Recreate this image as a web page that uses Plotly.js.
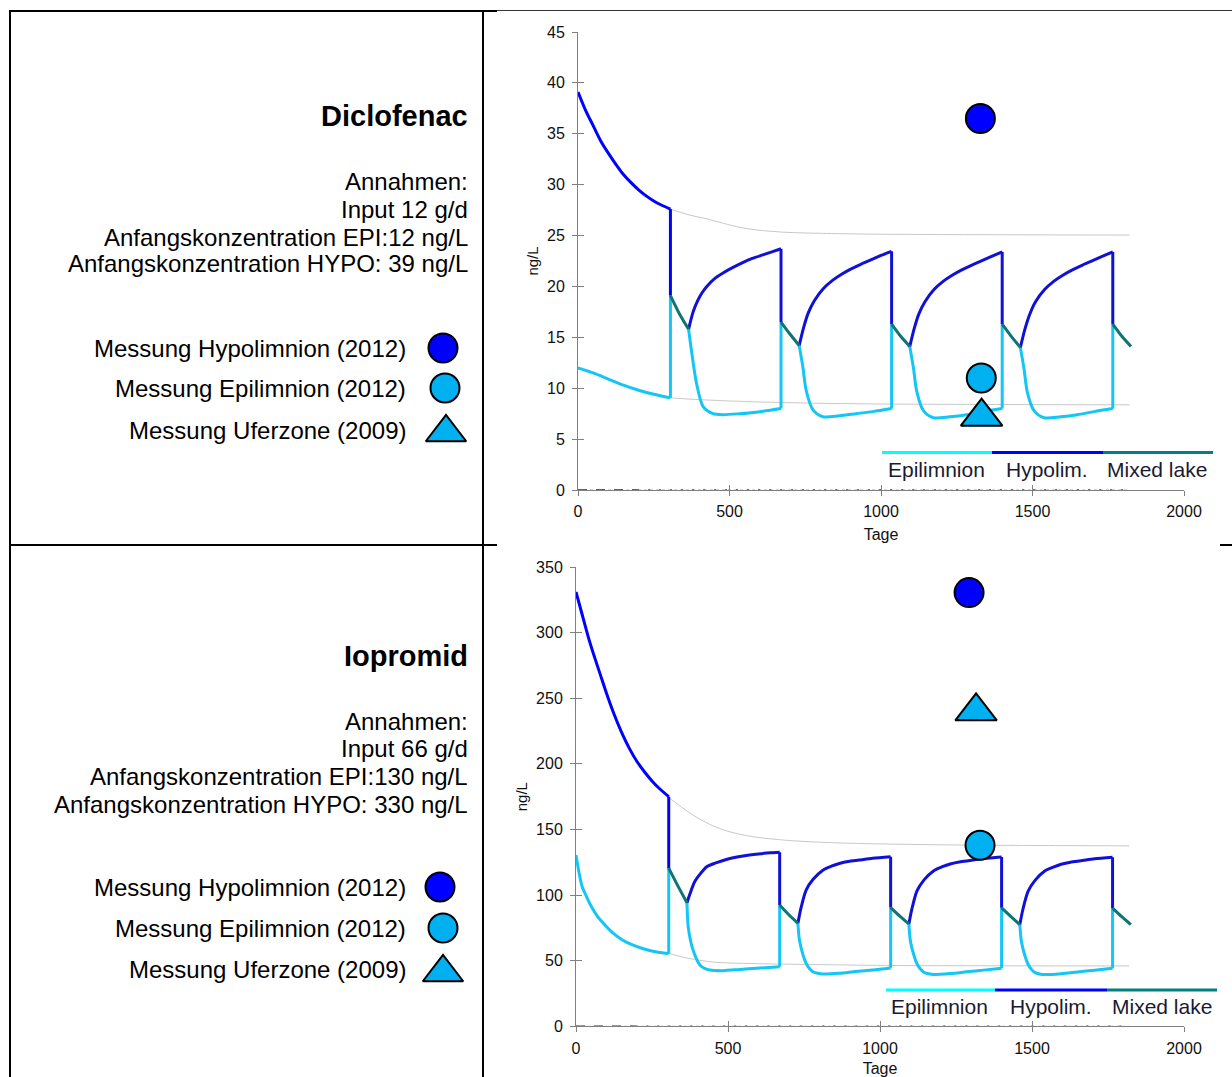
<!DOCTYPE html>
<html>
<head>
<meta charset="utf-8">
<script src="https://cdn.plot.ly/plotly-3.0.1.min.js"></script>
<style>
html,body{margin:0;padding:0;background:#fff;}
#chart{width:1232px;height:1077px;}
</style>
</head>
<body>
<div id="chart"></div>
<script>
// ================= DATA =================
// Diclofenac (top chart), ng/L over Tage
const dicHypoInitT = [0,25,50,75,100,125,150,175,200,225,250,275,305,305];
const dicHypoInitV = [39.1,37.3,35.8,34.3,33.1,32.0,31.0,30.2,29.5,28.9,28.4,28.0,27.6,19.1];

const dicEpiT = [0,50,100,150,200,250,305,305,null,
  365,374,391,413,446,479,534,589,670,670,null,
  730,742,753,775,808,863,918,973,1035,1035,null,
  1095,1107,1118,1140,1173,1228,1283,1338,1400,1400,null,
  1460,1472,1483,1505,1538,1593,1648,1703,1765,1765];
const dicEpiV = [12.0,11.5,10.9,10.3,9.8,9.4,9.05,19.1,null,
  15.8,13.8,10.5,8.2,7.5,7.4,7.5,7.65,8.0,16.5,null,
  14.2,12.1,9.8,7.9,7.2,7.3,7.5,7.7,8.0,16.3,null,
  14.1,12.0,9.7,7.8,7.1,7.2,7.4,7.7,8.0,16.3,null,
  14.0,11.9,9.6,7.8,7.1,7.2,7.4,7.7,8.0,16.3];

const dicHypoT = [365,380,395,410,425,450,480,510,540,575,610,640,670,670,null,
  730,745,760,780,810,840,870,900,935,970,1000,1035,1035,null,
  1095,1110,1125,1145,1175,1205,1235,1265,1300,1335,1365,1400,1400,null,
  1460,1475,1490,1510,1540,1570,1600,1630,1665,1700,1730,1765,1765];
const dicHypoV = [15.8,17.5,18.6,19.4,20.0,20.75,21.35,21.85,22.3,22.75,23.1,23.4,23.7,16.5,null,
  14.2,16.0,17.4,18.6,19.8,20.6,21.2,21.7,22.2,22.65,23.05,23.45,16.3,null,
  14.1,15.9,17.3,18.5,19.7,20.5,21.1,21.6,22.1,22.55,22.95,23.4,16.3,null,
  14.0,15.8,17.2,18.5,19.7,20.5,21.1,21.6,22.1,22.55,22.95,23.4,16.3];

const dicMixT = [305,335,365,null,670,700,730,null,1035,1065,1095,null,1400,1430,1460,null,1765,1795,1825];
const dicMixV = [19.1,17.3,15.8,null,16.5,15.3,14.2,null,16.3,15.1,14.1,null,16.3,15.1,14.0,null,16.3,15.1,14.1];

const dicGrayUpT = [305,370,425,480,535,590,645,700,800,900,1000,1200,1400,1600,1820];
const dicGrayUpV = [27.6,27.0,26.65,26.2,25.8,25.55,25.4,25.3,25.22,25.17,25.13,25.1,25.08,25.06,25.05];
const dicGrayLoT = [305,400,500,600,700,800,1000,1200,1400,1600,1820];
const dicGrayLoV = [9.05,8.88,8.75,8.65,8.58,8.52,8.45,8.42,8.4,8.38,8.37];

const dicMeasT = [1328,1331,1332];
const dicMeasV = [36.5,11.0,7.2];

// Iopromid (bottom chart)
const iopHypoInitT = [0,20,40,60,80,100,125,150,175,200,225,250,275,305,305];
const iopHypoInitV = [331,314,297,282,268,254,238,224,212,202,194,187,181,175,120.5];

const iopEpiT = [0,10,20,35,50,70,90,120,150,190,230,270,305,305,null,
  365,369,377,385,396,407,423,440,483,540,593,670,670,null,
  730,735,746,757,768,779,795,812,866,920,976,1035,1035,null,
  1095,1100,1111,1122,1133,1144,1160,1177,1231,1285,1341,1400,1400,null,
  1460,1465,1476,1487,1498,1509,1525,1542,1596,1650,1706,1765,1765];
const iopEpiV = [130.5,117,106.5,98.7,91.5,84,78.5,71.3,66.2,61.6,58.5,56.5,55.5,120.5,null,
  94.2,75.9,65,58.1,51.5,46.7,44.2,42.9,42.4,43.3,44.2,45.4,92.4,null,
  78.5,65.7,55,48,44,41.6,40.4,39.8,40.4,41.7,42.9,44.5,90.5,null,
  78.0,65,54.5,47.5,43.6,41.2,40.0,39.5,40.2,41.5,42.8,44.3,90.3,null,
  77.5,64.8,54.3,47.3,43.4,41.1,39.9,39.4,40.1,41.4,42.7,44.2,90.0];

const iopHypoT = [365,375,390,410,430,460,500,550,600,640,670,670,null,
  730,740,757,780,812,840,866,900,940,976,1035,1035,null,
  1095,1105,1122,1145,1177,1205,1231,1265,1305,1341,1400,1400,null,
  1460,1470,1487,1510,1542,1570,1596,1630,1670,1706,1765,1765];
const iopHypoV = [94.2,101,110,116.5,121.6,124.5,127.5,129.8,131.3,132.2,132.6,92.4,null,
  78.5,90,103.8,112,119,122,124.1,125.8,127,128,129.2,90.5,null,
  78.0,89.5,103.3,111.6,118.6,121.6,123.7,125.4,126.7,127.8,129,90.3,null,
  77.5,89,102.8,111.2,118.3,121.3,123.5,125.2,126.5,127.6,128.8,90.0];

const iopMixT = [305,335,365,null,670,700,730,null,1035,1065,1095,null,1400,1430,1460,null,1765,1795,1825];
const iopMixV = [120.5,107,94.2,null,92.4,85,78.5,null,90.5,84,78.0,null,90.3,83.8,77.5,null,90.0,83.5,77.5];

const iopGrayUpT = [305,350,400,450,500,550,600,700,800,900,1000,1200,1400,1600,1820];
const iopGrayUpV = [174.4,166.5,158.8,152.8,148.6,145.8,143.9,141.6,140.3,139.5,139,138.3,137.9,137.7,137.5];
const iopGrayLoT = [305,350,400,450,500,600,700,800,900,1000,1200,1400,1600,1820];
const iopGrayLoV = [55.6,52.8,50.6,49.0,48.3,47.7,47.3,47.0,46.7,46.4,46.2,46.1,46.0,46.0];

const iopMeasT = [1293,1329,1316];
const iopMeasV = [330.5,138,240];

// zero-level series (drawn along the axis)
const zeroDashT = [0,195];
const zeroDotT = [195,1820];
const zeroAllT = [0,1820];
const zeroV = [0,0];

// texts
const legendLabels = ['Epilimnion','Hypolim.','Mixed lake'];
const dicTexts = ['Annahmen:','Input 12 g/d','Anfangskonzentration EPI:12 ng/L','Anfangskonzentration HYPO: 39 ng/L'];
const iopTexts = ['Annahmen:','Input 66 g/d','Anfangskonzentration EPI:130 ng/L','Anfangskonzentration HYPO: 330 ng/L'];
const measLabels = ['Messung Hypolimnion (2012)','Messung Epilimnion (2012)','Messung Uferzone (2009)'];

// ================= LAYOUT HELPERS =================
const W = 1232, H = 1077;
const px = x => x / W;
const py = y => 1 - y / H;
const FONT = 'Arial, "Liberation Sans", sans-serif';

const C_EPI = '#14C6F5', C_HYPO0 = '#0000FF', C_HYPO = '#1010D6', C_MIX = '#127373', C_GRAY = '#C8C8C8';
const C_HMEAS = '#0000FF', C_EMEAS = '#00B0F0';

// split a series into smooth curve pieces and vertical jumps (last two points with equal t)
function splitJumps(T, V) {
  const cT = [], cV = [], jT = [], jV = [];
  let seg = [];
  const flush = () => {
    if (!seg.length) return;
    let pts = seg, n = seg.length;
    if (n >= 2 && pts[n-1][0] === pts[n-2][0]) {
      jT.push(pts[n-2][0], pts[n-1][0], null); jV.push(pts[n-2][1], pts[n-1][1], null);
      pts = pts.slice(0, n-1);
    }
    pts.forEach(p => { cT.push(p[0]); cV.push(p[1]); });
    cT.push(null); cV.push(null);
    seg = [];
  };
  for (let i = 0; i < T.length; i++) {
    if (T[i] === null) flush(); else seg.push([T[i], V[i]]);
  }
  flush();
  return {cT, cV, jT, jV};
}

function ln(x, y, color, width, xa, ya, dash, smooth) {
  const l = {color:color, width:width, dash:dash||'solid'};
  if (smooth) { l.shape = 'spline'; l.smoothing = smooth; }
  return {type:'scatter', mode:'lines', x:x, y:y, xaxis:xa, yaxis:ya,
    line:l, connectgaps:false, hoverinfo:'skip', showlegend:false};
}
function series(T, V, color, xa, ya) {
  const s = splitJumps(T, V);
  return [ln(s.jT, s.jV, color, 3, xa, ya), ln(s.cT, s.cV, color, 3, xa, ya, null, 0.8)];
}
function chartTraces(d, xa, ya) {
  return [
    ln(zeroAllT, zeroV, '#A8A8A8', 1, xa, ya, 'dot'),
    ln(zeroDashT, zeroV, '#2020E8', 1.5, xa, ya, 'dash'),
    ln(zeroDotT, zeroV, '#3030F0', 1.5, xa, ya, '2px,9px'),
    ln(d.gut, d.guv, C_GRAY, 1, xa, ya, null, 0.8),
    ln(d.glt, d.glv, C_GRAY, 1, xa, ya, null, 0.8)
  ].concat(series(d.et, d.ev, C_EPI, xa, ya))
   .concat(series(d.h0t, d.h0v, C_HYPO0, xa, ya))
   .concat(series(d.ht, d.hv, C_HYPO, xa, ya))
   .concat([ln(d.mt, d.mv, C_MIX, 3, xa, ya, null, 0.6)]);
}

const traces = []
  .concat(chartTraces({gut:dicGrayUpT,guv:dicGrayUpV,glt:dicGrayLoT,glv:dicGrayLoV,et:dicEpiT,ev:dicEpiV,
     h0t:dicHypoInitT,h0v:dicHypoInitV,ht:dicHypoT,hv:dicHypoV,mt:dicMixT,mv:dicMixV},'x','y'))
  .concat(chartTraces({gut:iopGrayUpT,guv:iopGrayUpV,glt:iopGrayLoT,glv:iopGrayLoV,et:iopEpiT,ev:iopEpiV,
     h0t:iopHypoInitT,h0v:iopHypoInitV,ht:iopHypoT,hv:iopHypoV,mt:iopMixT,mv:iopMixV},'x2','y2'));

const measMarker = {symbol:['circle','circle','triangle-up'], size:[29,29,36], opacity:1,
    color:[C_HMEAS,C_EMEAS,C_EMEAS], line:{color:'#000', width:2}};
// measurements
traces.push({type:'scatter', mode:'markers', x:dicMeasT, y:dicMeasV, xaxis:'x', yaxis:'y',
  hoverinfo:'skip', showlegend:false, cliponaxis:false, marker:measMarker});
traces.push({type:'scatter', mode:'markers', x:iopMeasT, y:iopMeasV, xaxis:'x2', yaxis:'y2',
  hoverinfo:'skip', showlegend:false, cliponaxis:false, marker:measMarker});

// key symbols in the left cells (pixel-positioned legend keys)
const keyX = [443,445,446, 440,443,443];
const keyY = [348,388,432.5, 887,928,972.5];
traces.push({type:'scatter', mode:'markers', x:keyX, y:keyY, xaxis:'x3', yaxis:'y3',
  hoverinfo:'skip', showlegend:false, cliponaxis:false,
  marker:{symbol:['circle','circle','triangle-up','circle','circle','triangle-up'],
    size:[29,29,35,29,29,35], opacity:1,
    color:[C_HMEAS,C_EMEAS,C_EMEAS,C_HMEAS,C_EMEAS,C_EMEAS], line:{color:'#000', width:2}}});

// empty traces so the tick-overlay axes get drawn
traces.push({type:'scatter', x:[], y:[], xaxis:'x4', yaxis:'y', showlegend:false, hoverinfo:'skip'});
traces.push({type:'scatter', x:[], y:[], xaxis:'x', yaxis:'y4', showlegend:false, hoverinfo:'skip'});
traces.push({type:'scatter', x:[], y:[], xaxis:'x5', yaxis:'y2', showlegend:false, hoverinfo:'skip'});
traces.push({type:'scatter', x:[], y:[], xaxis:'x2', yaxis:'y5', showlegend:false, hoverinfo:'skip'});

const tickFont = {family:FONT, size:16, color:'#111'};
function xAx(domain, anchor) {
  return {domain:domain, anchor:anchor, range:[0,2000], tick0:0, dtick:500, ticks:'outside', ticklen:5,
    tickcolor:'#808080', tickwidth:1, showline:true, linecolor:'#808080', linewidth:1,
    showgrid:false, zeroline:false, tickfont:tickFont, ticklabelstandoff:2,
    title:{text:'Tage', font:{family:FONT, size:16, color:'#111'}, standoff:9}, fixedrange:true};
}
function yAx(domain, anchor, range, dtick) {
  return {domain:domain, anchor:anchor, range:range, tick0:0, dtick:dtick, ticks:'outside', ticklen:5,
    tickcolor:'#808080', tickwidth:1, showline:true, linecolor:'#808080', linewidth:1,
    showgrid:false, zeroline:false, tickfont:tickFont, ticklabelstandoff:4,
    title:{text:'ng/L', font:{family:FONT, size:15, color:'#111'}, standoff:4}, fixedrange:true};
}
function overX(over, anchor) {
  return {overlaying:over, anchor:anchor, side:'bottom', range:[0,2000], tick0:0, dtick:500, ticks:'inside',
    ticklen:5, tickcolor:'#808080', showticklabels:false, showline:false, showgrid:false, zeroline:false, fixedrange:true};
}
function overY(over, anchor, range, dtick) {
  return {overlaying:over, anchor:anchor, side:'left', range:range, tick0:0, dtick:dtick, ticks:'inside',
    ticklen:6, tickcolor:'#808080', showticklabels:false, showline:false, showgrid:false, zeroline:false, fixedrange:true};
}

// chart pixel geometry
const gTop = {x0:578, x1:1184, y0:490, y1:32};
const gBot = {x0:576, x1:1184, y0:1026.3, y1:567};

const shapes = [];
const annotations = [];
function hline(x0, x1, y, w, c) { shapes.push({type:'line', xref:'paper', yref:'paper', x0:px(x0), x1:px(x1), y0:py(y), y1:py(y), line:{color:c||'#000', width:w}}); }
function vline(x, y0, y1, w, c) { shapes.push({type:'line', xref:'paper', yref:'paper', x0:px(x), x1:px(x), y0:py(y0), y1:py(y1), line:{color:c||'#000', width:w}}); }

// table frame
hline(9, 497, 11, 2);
hline(497, 1232, 10.5, 1, '#333');
vline(10, 10, 1077, 2);
vline(483, 10, 1077, 2);
hline(9, 497, 545, 2);
hline(1220, 1232, 545, 2);

// chart legends (coloured bars + labels)
function chartLegend(y, xs, tx, ty) {
  const cols = ['#00FFFF', '#0000FF', '#008080'];
  for (let i = 0; i < 3; i++) hline(xs[i], xs[i+1], y, 3, cols[i]);
  for (let i = 0; i < 3; i++) annotations.push({xref:'paper', yref:'paper', x:px(tx[i]), y:py(ty), text:legendLabels[i],
    showarrow:false, xanchor:'center', yanchor:'middle', font:{family:FONT, size:21, color:'#1a1a30'}});
}
chartLegend(452.5, [882, 992, 1103, 1213], [936, 1047, 1157], 469.5);
chartLegend(990, [886, 995, 1107, 1217], [939, 1051, 1162], 1007);

// left-cell texts
function txt(s, x, y, size, bold) {
  annotations.push({xref:'paper', yref:'paper', x:px(x), y:py(y), text: bold ? '<b>'+s+'</b>' : s, showarrow:false,
    xanchor:'right', yanchor:'middle', font:{family:FONT, size:size, color:'#000'}});
}
txt('Diclofenac', 470, 116, 29, true);
[181, 209, 237, 264].forEach((y, i) => txt(dicTexts[i], 470, y, 24));
[348, 389, 430].forEach((y, i) => txt(measLabels[i], 408, y, 24));
txt('Iopromid', 470, 656, 29, true);
[721, 748, 776, 804].forEach((y, i) => txt(iopTexts[i], 470, y, 24));
[887, 928, 969].forEach((y, i) => txt(measLabels[i], 408, y, 24));

const layout = {
  width: W, height: H,
  margin: {l:0, r:0, t:0, b:0, pad:0},
  paper_bgcolor: '#ffffff', plot_bgcolor: 'rgba(0,0,0,0)',
  showlegend: false, hovermode: false,
  font: {family: FONT, color:'#111'},
  xaxis: xAx([px(gTop.x0), px(gTop.x1)], 'y'),
  yaxis: yAx([py(gTop.y0), py(gTop.y1)], 'x', [0,45], 5),
  xaxis2: xAx([px(gBot.x0), px(gBot.x1)], 'y2'),
  yaxis2: yAx([py(gBot.y0), py(gBot.y1)], 'x2', [0,350], 50),
  xaxis3: {domain:[0, px(483)], range:[0,483], visible:false, fixedrange:true, anchor:'y3'},
  yaxis3: {domain:[0,1], range:[H,0], visible:false, fixedrange:true, anchor:'x3'},
  xaxis4: overX('x', 'y'),
  yaxis4: overY('y', 'x', [0,45], 5),
  xaxis5: overX('x2', 'y2'),
  yaxis5: overY('y2', 'x2', [0,350], 50),
  shapes: shapes,
  annotations: annotations
};

Plotly.newPlot('chart', traces, layout, {displayModeBar:false, staticPlot:true});
</script>
</body>
</html>
